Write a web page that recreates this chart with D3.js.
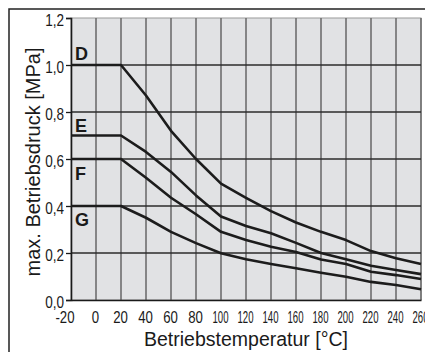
<!DOCTYPE html>
<html>
<head>
<meta charset="utf-8">
<script src="https://cdn.jsdelivr.net/npm/d3@7"></script>
<style>
  body { margin: 0; background: #fff; }
  text { font-family: "Liberation Sans", Arial, sans-serif; fill: #1a1a1a; }
</style>
</head>
<body>
<div id="chart"></div>
<script>
var temps = [-20, 0, 20, 40, 60, 80, 100, 120, 140, 160, 180, 200, 220, 240, 260];
var pressureD = [1.0, 1.0, 1.0, 0.87, 0.72, 0.60, 0.495, 0.435, 0.378, 0.33, 0.29, 0.255, 0.208, 0.178, 0.153];
var pressureE = [0.7, 0.7, 0.7, 0.63, 0.545, 0.445, 0.355, 0.315, 0.284, 0.243, 0.2, 0.173, 0.146, 0.128, 0.11];
var pressureF = [0.6, 0.6, 0.6, 0.52, 0.435, 0.365, 0.29, 0.255, 0.227, 0.204, 0.172, 0.153, 0.12, 0.106, 0.089];
var pressureG = [0.4, 0.4, 0.4, 0.35, 0.29, 0.242, 0.199, 0.173, 0.153, 0.135, 0.116, 0.099, 0.077, 0.064, 0.046];
var seriesNames = ["D", "E", "F", "G"];
var xTicks = [-20, 0, 20, 40, 60, 80, 100, 120, 140, 160, 180, 200, 220, 240, 260];
var yTicks = [0, 0.2, 0.4, 0.6, 0.8, 1.0, 1.2];

var W = 425, H = 352;
var margin = {top: 18, right: 4, bottom: 52, left: 71},
    width = 350,
    height = 282;

var svg = d3.select("#chart")
  .append("svg")
    .attr("width", W)
    .attr("height", H);

// outer frame, cut off at right and bottom like the scan
svg.append("path")
    .attr("d", "M9," + (H + 5) + "V9H" + (W + 5))
    .attr("fill", "none")
    .attr("stroke", "#222")
    .attr("stroke-width", 1.5);

var g = svg.append("g")
    .attr("transform", "translate(" + margin.left + "," + margin.top + ")");

var x = d3.scaleLinear().domain([-20, 260]).range([0, width]);
var y = d3.scaleLinear().domain([0, 1.2]).range([height, 0]);

g.append("rect")
    .attr("width", width)
    .attr("height", height)
    .attr("fill", "#e1e2e4")
    .attr("stroke", "#9a9a9a")
    .attr("stroke-width", 1);

// vertical grid
g.selectAll(".vgrid")
  .data(xTicks.slice(1))
  .enter()
  .append("line")
    .attr("x1", function(d) { return x(d); })
    .attr("x2", function(d) { return x(d); })
    .attr("y1", 0)
    .attr("y2", height)
    .attr("stroke", "#6e6e6e")
    .attr("stroke-width", 1.6);

// horizontal grid
g.selectAll(".hgrid")
  .data(yTicks.slice(1, -1))
  .enter()
  .append("line")
    .attr("x1", 0)
    .attr("x2", width)
    .attr("y1", function(d) { return y(d); })
    .attr("y2", function(d) { return y(d); })
    .attr("stroke", "#2b2b2b")
    .attr("stroke-width", 1.3);

// y axis
var yAxis = g.append("g")
    .call(d3.axisLeft(y).tickValues(yTicks).tickSize(5).tickPadding(2)
      .tickFormat(function(d) { return d.toFixed(1).replace(".", ","); }));
yAxis.select(".domain").attr("stroke", "#1a1a1a").attr("stroke-width", 1.6);
yAxis.selectAll(".tick line").attr("stroke", "#1a1a1a").attr("stroke-width", 1.3);
yAxis.selectAll("text")
    .attr("dy", null)
    .attr("y", 7)
    .style("font-size", "16.5px")
    .attr("fill", "#1a1a1a")
    .each(function() {
      var len = this.getComputedTextLength();
      d3.select(this).attr("textLength", len * 0.82).attr("lengthAdjust", "spacingAndGlyphs");
    });

// x axis
var xAxis = g.append("g")
    .attr("transform", "translate(0," + height + ")")
    .call(d3.axisBottom(x).tickValues(xTicks).tickSize(0).tickPadding(0)
      .tickFormat(function(d) { return String(d); }));
xAxis.select(".domain").attr("stroke", "#1a1a1a").attr("stroke-width", 1.6);
xAxis.selectAll("text")
    .attr("dy", null)
    .attr("y", 23)
    .attr("x", function(d) { return d === -20 ? 3 : -1; })
    .attr("text-anchor", function(d) { return d === -20 ? "end" : "middle"; })
    .style("font-size", "16.5px")
    .attr("fill", "#1a1a1a")
    .each(function(d) {
      var len = this.getComputedTextLength();
      var target = d >= 100 ? 16 : len * 0.8;
      d3.select(this).attr("textLength", target).attr("lengthAdjust", "spacingAndGlyphs");
    });

// curves
var series = [pressureD, pressureE, pressureF, pressureG];
var line = d3.line()
    .x(function(d, i) { return x(temps[i]); })
    .y(function(d) { return y(d); });

g.selectAll(".curve")
  .data(series)
  .enter()
  .append("path")
    .attr("d", line)
    .attr("fill", "none")
    .attr("stroke", "#1c1c1c")
    .attr("stroke-width", 2.6)
    .attr("stroke-linejoin", "round");

// series letters above each flat segment
g.selectAll(".lbl")
  .data(series)
  .enter()
  .append("text")
    .attr("x", 4)
    .attr("y", function(d, i) { return y(d[0]) + [-5, -4, 21, 20][i]; })
    .style("font-size", "18px")
    .style("font-weight", "bold")
    .text(function(d, i) { return seriesNames[i]; });

// axis titles
svg.append("text")
    .attr("x", 246)
    .attr("y", 346)
    .attr("text-anchor", "middle")
    .style("font-size", "19.5px")
    .text("Betriebstemperatur [°C]");

svg.append("text")
    .attr("transform", "translate(40,162) rotate(-90)")
    .attr("text-anchor", "middle")
    .style("font-size", "20px")
    .text("max. Betriebsdruck [MPa]");
</script>
</body>
</html>
